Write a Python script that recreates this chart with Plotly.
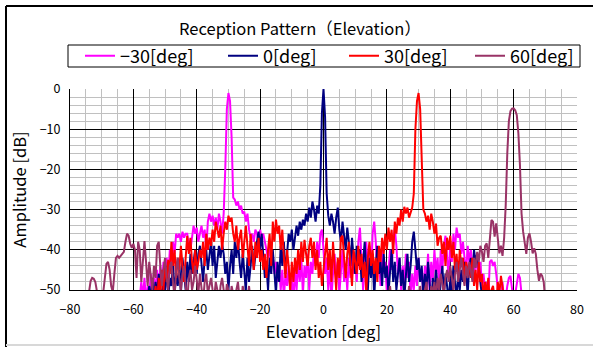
import numpy as np
import plotly.graph_objects as go

# ---------------- data (dB values sampled every 0.5 deg) ----------------
step_deg = 0.5

m30_start = -58.0
m30_db = [
    -52, -48, -52, -47, -53, -49, -52, -46, -51, -47,
    -50, -45, -52, -44, -49, -43, -50, -42, -47, -40,
    -44, -38, -41, -36, -37, -36, -38, -35.5, -37, -36,
    -36, -39, -40, -37, -34, -36, -34.5, -38, -36, -34,
    -37, -35, -40, -33, -31, -33, -31.5, -34, -32, -35,
    -31, -33, -36, -31, -20, -5, -1, -3, -12, -27,
    -27.5, -29, -28, -30, -29, -31, -30.5, -33, -31, -35,
    -37, -36, -38, -35, -36, -38, -35, -37, -36, -38,
    -40, -42, -39, -44, -41, -46, -43, -48, -44, -50,
    -45, -52, -46, -49, -44, -51, -47, -53, -45, -50,
    -43, -48, -42, -51, -44, -47, -41, -50, -43, -46,
    -40, -44, -38, -42, -36, -35, -40, -46, -42, -50,
    -44, -52, -46, -41, -47, -43, -51, -45, -40, -48,
    -44, -50, -42, -47, -39, -46, -42, -48, -38, -34.5,
    -41, -50, -43, -38, -44, -39, -47, -36, -33, -38,
    -46, -42, -49, -40, -46, -43, -51, -44, -40, -45,
    -38, -34.5, -39, -46, -42, -50, -44, -48, -41, -47,
    -43, -52, -46, -50, -44, -49, -42, -48, -45, -51,
    -44, -47, -41, -50, -43, -48, -40, -46, -42, -49,
    -40, -45, -39, -36.5, -41, -47, -38, -43, -36, -40,
    -34.5, -37, -36, -41, -38, -42, -46, -39, -43, -40,
    -44, -48, -42, -45, -47, -43, -49, -46, -50, -48,
    -52, -43, -42.5, -44, -43, -46, -50, -53, -52, -48,
    -53, -52, -49, -47, -46.5, -50, -53, -51, -48, -46,
    -47, -51, -55,
]

z0_start = -56.0
z0_db = [
    -55, -52, -49, -53, -47, -52, -48, -51, -46, -50,
    -53, -45, -50, -44, -52, -47, -49, -43, -51, -46,
    -49, -44, -51, -42, -47, -50, -43, -48, -41, -46,
    -43, -40, -46, -41, -39, -44, -48, -42, -40, -45,
    -41, -38, -44, -39, -47, -43, -39, -42, -38.5, -41,
    -46, -43, -50, -44, -40, -46, -38, -42, -37.5, -43,
    -47, -41, -45, -50, -42, -48, -44, -39, -45, -41,
    -38, -35.5, -40, -36, -42, -47, -44, -50, -42, -46,
    -40, -45, -51, -43, -48, -39, -44, -38, -46, -41,
    -36, -38, -35, -40, -37, -34, -36.5, -33, -35, -32.5,
    -34, -31, -33, -29.5, -32, -28, -30, -33, -29, -31,
    -24, -6, 0, -7, -26, -31.5, -34, -31, -33, -36,
    -32, -29.5, -35, -38, -33, -36, -40, -34.5, -38, -44,
    -37, -42, -46, -39, -44, -40, -48, -43, -38, -45,
    -50, -42, -47, -41, -52, -44, -39, -46, -43, -49,
    -41, -47, -44, -51, -45, -40, -48, -43, -50, -46,
    -42, -49, -45, -52, -47, -41, -48, -44, -38, -35.5,
    -40, -45, -42, -48, -44, -52, -46, -50, -43, -49,
    -54, -47, -51, -45, -50, -53, -48, -44, -51, -46,
    -49, -53, -47, -51, -44, -49, -52, -46, -50, -45,
    -48, -43, -46, -51, -44, -42, -47, -40, -43, -41,
    -45, -48, -52, -55,
]

p30_start = -54.0
p30_db = [
    -55, -52, -49, -53, -47, -51, -45, -50, -43, -48,
    -42.5, -46, -38, -44, -40, -47, -42, -45, -39, -44,
    -48, -42, -36.5, -41, -37, -43, -46, -40, -45, -43,
    -40, -42, -38, -44, -36, -40, -37, -39, -35, -38,
    -33, -35, -37, -34, -40, -36, -33, -35, -31.5, -33,
    -32, -36, -38, -34, -40, -37, -35, -42, -37, -34,
    -39, -44, -36, -41, -45, -38, -42, -37, -43, -40,
    -45, -41, -47, -40, -36, -44, -33, -38, -32.5, -36,
    -34, -40, -35, -42, -47, -40, -44, -50, -43, -48,
    -42, -46, -40, -45, -38, -43, -37.5, -41, -44, -39,
    -37, -42, -38, -45, -40, -47, -43, -49, -45, -41,
    -37, -45, -40, -48, -38, -44, -50, -42, -47, -37,
    -36.5, -42, -47, -41, -38, -44, -49, -40, -43, -46,
    -39, -45, -41, -47, -43, -51, -42, -38, -44, -40,
    -46, -42, -48, -39, -43, -37, -41, -36, -40, -34.5,
    -38, -35, -41, -33, -36, -32, -34, -30, -33, -29.3,
    -31, -29.5, -32, -31, -29.5, -26, -10, -3, -1, -5,
    -18, -30, -31, -33, -31.5, -35, -31, -33, -36, -33.5,
    -39, -37, -36.5, -41, -38, -44, -37, -40, -36.5, -42,
    -38, -45, -41, -47, -40, -44, -42, -48, -43, -45,
    -44, -47, -42, -49, -45, -50, -43, -48, -46, -52,
    -48, -51, -47, -53, -50, -49, -52, -54, -48, -51,
    -46.5, -49, -52, -55,
]

p60_start = -75.0
p60_db = [
    -56, -53, -50, -47.8, -47, -47.2, -48, -50, -53, -55,
    -54, -50, -46, -43.5, -43, -45, -49, -50.5, -46, -42,
    -41.5, -42, -41.5, -41, -40.5, -38, -36, -36.5, -38.5, -39.5,
    -38.5, -40, -47, -38, -40, -48, -42, -37.8, -43, -49,
    -43, -46, -50, -44, -47, -39, -38, -44, -49, -45,
    -42, -47, -50, -44, -43, -48, -52, -45, -42, -47,
    -50, -46, -44, -49, -53, -47, -45, -50, -48, -44,
    -47, -51, -46, -49, -53, -48, -46, -51, -49, -47,
    -50, -52, -48, -50, -54, -49, -47, -50, -53, -48.5,
    -50, -53, -49, -51, -55, -50, -48, -52, -54, -49,
    -51, -55, -52, -49, -53, -56, -51, -54, -57, -55,
    -56, -53, -58, -54, -51, -55, -59, -53, -56, -52,
    -57, -54, -60, -55, -52, -58, -54, -57, -53, -59,
    -55, -58, -53, -56, -60, -54, -57, -52, -55, -58,
    -54, -57, -61, -55, -53, -58, -56, -60, -54, -57,
    -53, -56, -59, -54, -57, -52, -55, -58, -54, -56,
    -60, -55, -53, -57, -54, -58, -52, -56, -59, -54,
    -57, -53, -55, -58, -52, -56, -54, -59, -53, -57,
    -55, -51, -54, -57, -52, -55, -58, -53, -50, -54,
    -56, -52, -49, -53, -57, -51, -55, -53, -50, -54,
    -52, -56, -50, -53, -49, -52, -55, -51, -54, -50,
    -53, -49, -52, -55, -50, -48, -52, -54, -49, -51,
    -48, -52, -47, -50, -46, -49, -51, -47, -45, -48,
    -44, -47, -50, -46, -43, -48, -45, -42, -46, -49,
    -44, -47, -43, -45, -48, -42, -44.5, -40.5, -43, -39,
    -40.5, -43, -39, -38.4, -42, -36, -32.6, -33, -36.7, -33.4,
    -38, -40.9, -39, -41.5, -37.1, -29, -16, -8, -5.5, -4.9,
    -4.8, -5.3, -6.5, -11, -19, -31, -35.5, -38, -41, -37,
    -35.9, -38, -40.9, -39.6, -41, -45, -47.7, -45.9, -46.5, -48,
    -53,
]

series_names = ["−30[deg]", "0[deg]", "30[deg]", "60[deg]"]
series_starts = [m30_start, z0_start, p30_start, p60_start]
series_values = [m30_db, z0_db, p30_db, p60_db]
series_colors = ["#FF00FF", "#000080", "#FF0000", "#993366"]

title_text = "Reception Pattern（Elevation）"
x_title = "Elevation [deg]"
y_title = "Amplitude [dB]"

FONT = "Noto Sans CJK JP"

# legend entry widths (px) so the entries spread across the legend box
legend_widths = [98, 76, 81, 66]

fig = go.Figure()
for name, start, vals, col, lw in zip(series_names, series_starts, series_values,
                                      series_colors, legend_widths):
    x = start + step_deg * np.arange(len(vals))
    fig.add_trace(go.Scatter(x=x, y=vals, mode="lines", name=name, legendwidth=lw,
                             line=dict(color=col, width=2)))

# plot area in pixels: x 70..577, y 89..290
L, R, T, B = 70, 577, 89, 290
W, H = 593, 347
def px(xp):
    return (xp - L) / (R - L)
def py(yp):
    return (B - yp) / (B - T)

fig.update_layout(
    width=W, height=H, autosize=False,
    margin=dict(l=L, r=W - R, t=T, b=H - B, autoexpand=False),
    paper_bgcolor="white", plot_bgcolor="white",
    hovermode=False,
    font=dict(family=FONT, color="black"),
    title=dict(text=title_text, x=300 / W, y=1 - 29 / H, xref="container", yref="container",
               xanchor="center", yanchor="middle", font=dict(size=16.5, family=FONT)),
    showlegend=True,
    legend=dict(orientation="h", x=px(80), y=py(56), xref="paper", yref="paper",
                xanchor="left", yanchor="middle",
                bgcolor="rgba(0,0,0,0)", borderwidth=0, font=dict(size=18, family=FONT),
                entrywidthmode="pixels", itemwidth=30),
    xaxis=dict(range=[-80, 80], dtick=20, tick0=0, showgrid=True, gridcolor="black", gridwidth=1,
               zeroline=False, showline=True, linecolor="black", linewidth=1, ticks="",
               automargin=False, ticklabelstandoff=8,
               tickfont=dict(size=12.5, family=FONT),
               minor=dict(dtick=5, showgrid=True, gridcolor="#c0c0c0", gridwidth=1),
               title=dict(text=x_title, font=dict(size=16.5, family=FONT), standoff=9)),
    yaxis=dict(range=[-50, 0], dtick=10, tick0=0, showgrid=True, gridcolor="black", gridwidth=1,
               zeroline=False, showline=True, linecolor="black", linewidth=1, ticks="",
               automargin=False,
               tickfont=dict(size=12.5, family=FONT), ticklabelstandoff=6,
               minor=dict(dtick=2, showgrid=True, gridcolor="#c0c0c0", gridwidth=1),
               title=dict(text=y_title, font=dict(size=16.5, family=FONT), standoff=8)),
    shapes=[
        dict(type="rect", xref="paper", yref="paper", x0=px(68), x1=px(580), y0=py(67), y1=py(45),
             line=dict(color="black", width=1), fillcolor="rgba(0,0,0,0)", layer="above"),
        dict(type="line", xref="paper", yref="paper", x0=px(6), x1=px(6), y0=py(6), y1=py(347),
             line=dict(color="black", width=2)),
        dict(type="line", xref="paper", yref="paper", x0=px(6), x1=px(593), y0=py(6), y1=py(6),
             line=dict(color="black", width=2)),
        dict(type="line", xref="paper", yref="paper", x0=px(6), x1=px(593), y0=py(345), y1=py(345),
             line=dict(color="#d8d8d8", width=2)),
    ],
)

fig.write_html("out.html", config={"displayModeBar": False},
               post_script="document.body.style.margin='0px';")
